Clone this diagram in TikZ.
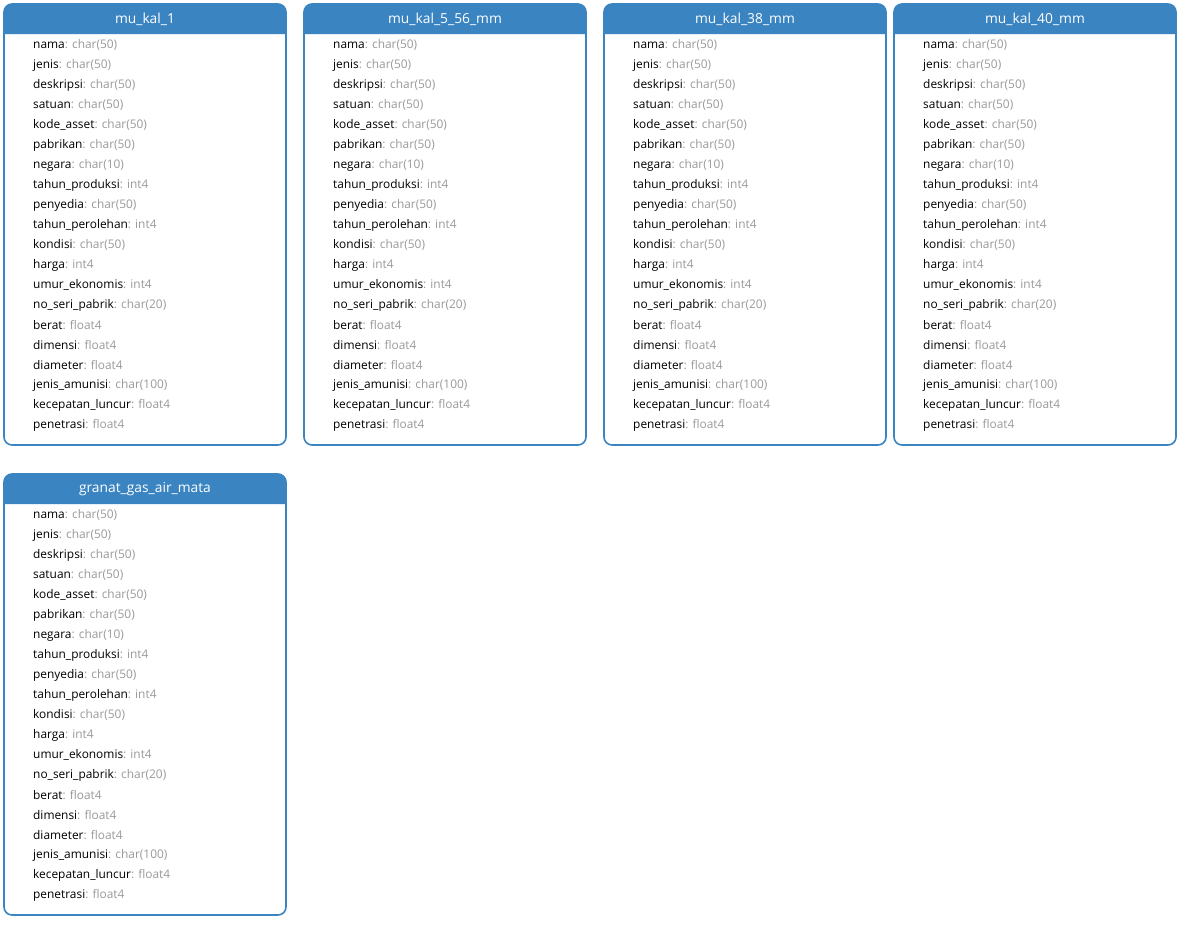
\documentclass[tikz,border=0pt]{standalone}
\usepackage{fontspec}
\setmainfont{Open Sans}
\usetikzlibrary{positioning}

\definecolor{headblue}{HTML}{3A84C1}
\definecolor{typegray}{HTML}{9A9A9A}

\tikzset{
  tabletitle/.style={text=white, font=\fontsize{13.8}{15}\selectfont, inner sep=0pt},
  fieldrow/.style={anchor=west, inner sep=0pt, font=\fontsize{11.9}{13}\selectfont},
}

% one table: #1 name, #2 left x, #3 top y, #4 title
\newcommand{\ermtable}[4]{
  \filldraw[headblue, fill=white, line width=1.6pt, rounded corners=8pt]
    (#2,#3) rectangle ++(282,441);
  \fill[headblue] (#2,#3+30) [rounded corners=8pt] -- (#2,#3) -- (#2+282,#3)
    [sharp corners] -- (#2+282,#3+30) -- cycle;
  \node[tabletitle] (#1-title) at (#2+141,#3+15) {#4};
  \foreach \fname/\ftype [count=\i] in {
      nama/char(50), jenis/char(50), deskripsi/char(50), satuan/char(50),
      kode\_asset/char(50), pabrikan/char(50), negara/char(10),
      tahun\_produksi/int4, penyedia/char(50), tahun\_perolehan/int4,
      kondisi/char(50), harga/int4, umur\_ekonomis/int4,
      no\_seri\_pabrik/char(20), berat/float4, dimensi/float4,
      diameter/float4, jenis\_amunisi/char(100), kecepatan\_luncur/float4,
      penetrasi/float4}
    \node[fieldrow] (#1-f\i) at (#2+29,#3+20*\i+21) {\fname\textcolor{typegray}{: \ftype}};
}

\begin{document}
\begin{tikzpicture}[x=1pt, y=-1pt]
  \useasboundingbox (0,0) rectangle (1180,930);

  \ermtable{kal1}{4}{4}{mu\_kal\_1}
  \ermtable{kal556}{304}{4}{mu\_kal\_5\_56\_mm}
  \ermtable{kal38}{604}{4}{mu\_kal\_38\_mm}
  \ermtable{kal40}{894}{4}{mu\_kal\_40\_mm}
  \ermtable{granat}{4}{474}{granat\_gas\_air\_mata}
\end{tikzpicture}
\end{document}
